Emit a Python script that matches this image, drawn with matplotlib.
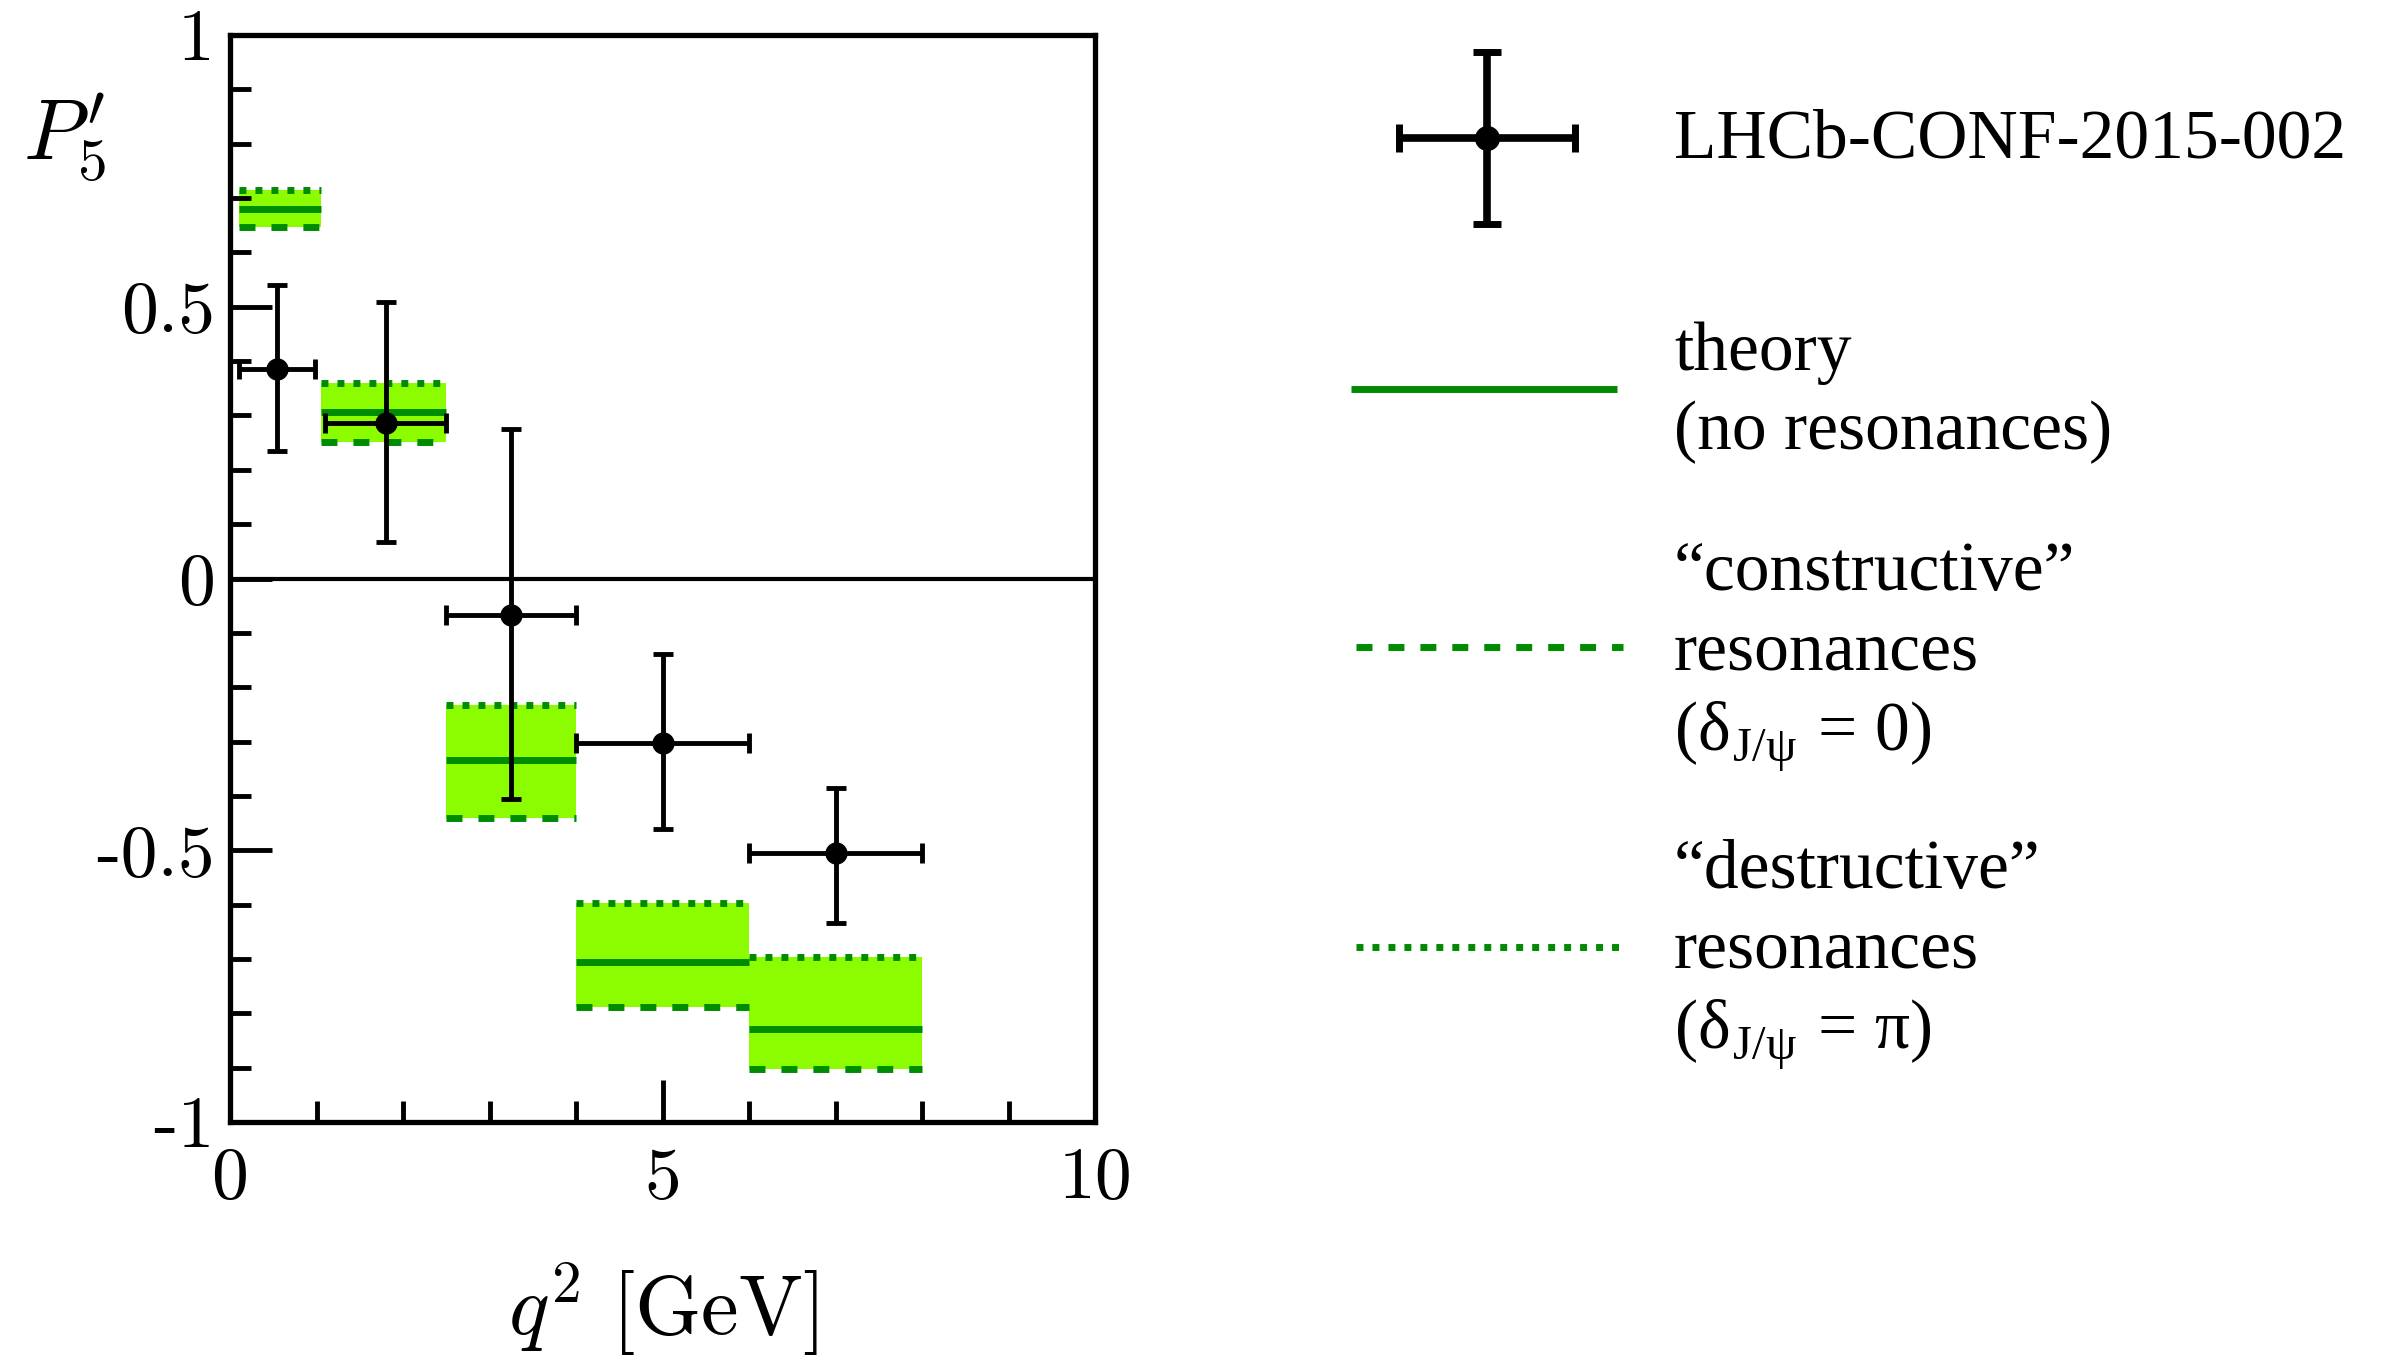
import matplotlib.pyplot as plt
from matplotlib.ticker import MultipleLocator

plt.rcParams['mathtext.fontset'] = 'cm'
plt.rcParams['lines.scale_dashes'] = False

# LHCb-CONF-2015-002 measurement of P5'
bin_lo = [0.1, 1.1, 2.5, 4.0, 6.0]
bin_hi = [0.98, 2.5, 4.0, 6.0, 8.0]
p5_val = [0.385, 0.286, -0.067, -0.302, -0.505]
p5_up = [0.155, 0.223, 0.342, 0.163, 0.119]
p5_dn = [0.150, 0.219, 0.339, 0.158, 0.128]

# theory bins: no resonances / constructive / destructive
th_lo = [0.1, 1.05, 2.5, 4.0, 6.0]
th_hi = [1.05, 2.5, 4.0, 6.0, 8.0]
th_central = [0.680, 0.306, -0.334, -0.706, -0.829]
th_constr = [0.647, 0.251, -0.440, -0.789, -0.902]
th_destr = [0.715, 0.360, -0.232, -0.597, -0.696]

y_ticks = [-1, -0.5, 0, 0.5, 1]
y_ticklabels = ['-1', '-0.5', '0', '0.5', '1']
x_ticks = [0, 5, 10]
x_ticklabels = ['0', '5', '10']

FILL = '#8cfc00'
DARK = '#008c00'
DASH = (11.5, 11.5)
DOT = (5, 6.5)
SERIF = 'Liberation Serif'

W, H = 2407, 1357
fig = plt.figure(figsize=(W / 100, H / 100), dpi=100)
ax = fig.add_axes([230 / W, 235 / H, 865 / W, 1087 / H])

for lo, hi, c, k, d in zip(th_lo, th_hi, th_central, th_constr, th_destr):
    ax.fill_between([lo, hi], [k, k], [d, d], color=FILL, lw=0, zorder=1)
    ax.plot([lo, hi], [c, c], color=DARK, lw=5, solid_capstyle='butt', zorder=2)
    ax.plot([lo, hi], [k, k], color=DARK, lw=5, dashes=DASH, zorder=2)
    ax.plot([lo, hi], [d, d], color=DARK, lw=5, dashes=DOT, zorder=2)

ax.axhline(0, color='k', lw=3, zorder=3)

xc = [(a + b) / 2 for a, b in zip(bin_lo, bin_hi)]
xe = [(b - a) / 2 for a, b in zip(bin_lo, bin_hi)]
ax.errorbar(xc, p5_val, yerr=[p5_dn, p5_up], xerr=xe, fmt='o', color='k',
            ms=15, elinewidth=3.5, capsize=7.5, capthick=3.5, zorder=4)

ax.set_xlim(0, 10)
ax.set_ylim(-1, 1)
for s in ax.spines.values():
    s.set_linewidth(3.8)

ax.set_yticks(y_ticks)
ax.set_yticklabels(y_ticklabels, fontfamily='cmr10', fontsize=53)
ax.set_xticks(x_ticks)
ax.set_xticklabels(x_ticklabels, fontfamily='cmr10', fontsize=53)
ax.yaxis.set_minor_locator(MultipleLocator(0.1))
ax.xaxis.set_minor_locator(MultipleLocator(1))
ax.tick_params(which='both', direction='in', top=False, right=False, width=3.5)
ax.tick_params(which='major', length=30)
ax.tick_params(which='minor', length=15)
ax.tick_params(axis='y', pad=11)
ax.tick_params(axis='x', pad=18)

ax.set_xlabel(r'$q^2\ [\mathrm{GeV}]$', fontsize=61)
ax.xaxis.set_label_coords(0.5, -0.196)
ax.xaxis.label.set_va('baseline')
ax.set_ylabel(r'$P^{\prime}_5$', fontsize=61, rotation=0, ha='left', va='baseline')
ax.yaxis.set_label_coords(-0.239, 0.886)

# legend drawn by hand in pixel coordinates
lax = fig.add_axes([0, 0, 1, 1])
lax.set_xlim(0, W)
lax.set_ylim(H, 0)
lax.axis('off')

lax.errorbar([1487], [138], xerr=[88], yerr=[86], fmt='o', color='k',
             ms=17, elinewidth=5.5, capsize=10, capthick=5)
lax.plot([1351, 1617], [389, 389], color=DARK, lw=5, solid_capstyle='butt')
lax.plot([1356, 1623], [647, 647], color=DARK, lw=5, dashes=DASH)
lax.plot([1356, 1621], [947, 947], color=DARK, lw=5, dashes=DOT)

legend_lines = [
    ('LHCb-CONF-2015-002', 157),
    ('theory', 370),
    ('(no resonances)', 449),
    ('\u201cconstructive\u201d', 590),
    ('resonances', 669),
    (r'(δ$_{\mathregular{J/ψ}}$ = 0)', 750),
    ('\u201cdestructive\u201d', 888),
    ('resonances', 968),
    (r'(δ$_{\mathregular{J/ψ}}$ = π)', 1048),
]
for txt, yb in legend_lines:
    lax.text(1674, yb, txt, fontsize=50, family=SERIF, va='baseline', ha='left')

fig.savefig('out.png', dpi=100)
